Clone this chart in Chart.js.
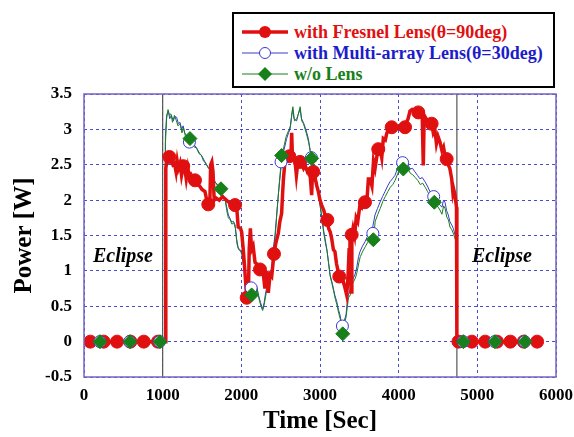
<!DOCTYPE html>
<html lang="en">
  <head>
    <meta charset="UTF-8" />
    <title>Power vs Time</title>
    <script src="https://cdn.jsdelivr.net/npm/chart.js"></script>
    <style>
      body { margin: 0; background: #fff; }
      #wrap { position: relative; width: 574px; height: 437px; }
      #legendBox {
        position: absolute; left: 232px; top: 12px; width: 319px; height: 72px;
        border: 2px solid #000; background: #fff;
        font-family: "Liberation Serif", serif; font-weight: bold; font-size: 18px;
      }
      .row { position: absolute; left: 8px; height: 20px; display: flex; align-items: center; white-space: nowrap; }
      .row svg { margin-right: 6px; }
      .eclipse {
        position: absolute; font-family: "Liberation Serif", serif;
        font-weight: bold; font-style: italic; font-size: 20px; line-height: 20px;
      }
    </style>
  </head>
  <body>
    <div id="wrap">
      <canvas id="chartPower" width="574" height="437"></canvas>

      <!-- legend -->
      <div id="legendBox">
        <div class="row" style="top: 8px; color: #e01010;">
          <svg width="46" height="16"><line x1="0" y1="8" x2="46" y2="8" stroke="#e01010" stroke-width="3.5"/><circle cx="23" cy="8" r="6" fill="#e01010"/></svg>
          with Fresnel Lens(θ=90deg)
        </div>
        <div class="row" style="top: 29px; color: #1c1cc8;">
          <svg width="46" height="16"><line x1="0" y1="8" x2="46" y2="8" stroke="#3a3ad0" stroke-width="1"/><circle cx="23" cy="8" r="5.5" fill="#fff" stroke="#3a3ad0" stroke-width="1"/></svg>
          with Multi-array Lens(θ=30deg)
        </div>
        <div class="row" style="top: 50px; color: #17801a;">
          <svg width="46" height="16"><line x1="0" y1="8" x2="46" y2="8" stroke="#17801a" stroke-width="1"/><polygon points="23,1 30,8 23,15 16,8" fill="#17801a"/></svg>
          w/o Lens
        </div>
      </div>

      <div class="eclipse" style="left: 93px; top: 245px;">Eclipse</div>
      <div class="eclipse" style="left: 472px; top: 245px;">Eclipse</div>
    </div>

    <script>
      // axes
      var xTicks = [0, 1000, 2000, 3000, 4000, 5000, 6000];
      var yTicks = [-0.5, 0, 0.5, 1, 1.5, 2, 2.5, 3, 3.5];

      // eclipse boundaries (sec)
      var eclipseBounds = [1000, 4740];

      // with Fresnel Lens (theta = 90deg)
      var fresnelT = [60, 1030, 1040, 1060, 1085, 1110, 1130, 1150, 1170, 1185, 1200, 1220, 1240, 1262, 1285, 1300, 1320, 1340, 1360, 1390,
        1411, 1440, 1470, 1500, 1538, 1560, 1580, 1600, 1610, 1625, 1640, 1655, 1680, 1720, 1760, 1792, 1830, 1870, 1900, 1920,
        1941, 1960, 1990, 2004, 2025, 2045, 2068, 2090, 2100, 2115, 2130, 2150, 2174, 2195, 2216, 2237, 2260, 2280, 2300, 2320,
        2343, 2365, 2386, 2415, 2440, 2470, 2490, 2512, 2525, 2534, 2555, 2580, 2610, 2630, 2640, 2650, 2680, 2700, 2720, 2746,
        2770, 2790, 2810, 2840, 2870, 2894, 2905, 2915, 2940, 2960, 2979, 3000, 3021, 3050, 3070, 3093, 3110, 3130, 3148, 3170,
        3190, 3210, 3230, 3245, 3270, 3296, 3320, 3339, 3355, 3370, 3381, 3395, 3405, 3420, 3440, 3460, 3480, 3508, 3530, 3550,
        3572, 3600, 3615, 3635, 3660, 3680, 3700, 3720, 3741, 3760, 3785, 3805, 3830, 3850, 3880, 3911, 3940, 3960, 3990, 4020,
        4050, 4081, 4100, 4120, 4144, 4170, 4200, 4230, 4249, 4280, 4300, 4313, 4325, 4350, 4380, 4400, 4419, 4440, 4460, 4480,
        4500, 4525, 4550, 4570, 4590, 4610, 4630, 4650, 4674, 4690, 4700, 4716, 4735, 4740, 5800];
      var fresnelP = [0, 0, 2.45, 2.6, 2.61, 2.55, 2.5, 2.52, 2.4, 2.55, 2.45, 2.52, 2.35, 2.48, 2.42, 2.3, 2.45, 2.32, 2.36, 2.3,
        2.28, 2.22, 2.2, 2.15, 2.12, 2.0, 1.94, 1.98, 2.5, 2.54, 2.4, 2.0, 2.03, 2.0, 2.05, 2.02, 1.98, 1.95, 1.92, 1.93,
        1.9, 1.62, 1.6, 1.55, 1.3, 1.0, 0.62, 0.65, 1.3, 1.6, 1.3, 1.35, 1.12, 1.1, 1.06, 1.02, 0.98, 0.95, 0.75, 1.0,
        0.69, 0.95, 0.92, 1.24, 1.4, 1.53, 1.7, 1.81, 2.1, 2.28, 2.56, 2.6, 2.62, 2.6, 2.95, 2.6, 2.58, 2.35, 2.55, 2.54,
        2.5, 2.45, 2.5, 2.4, 2.42, 2.07, 2.4, 2.4, 2.3, 2.2, 2.12, 2.0, 1.93, 1.85, 1.75, 1.72, 1.6, 1.55, 1.46, 1.3,
        1.27, 1.1, 1.0, 0.92, 0.88, 0.85, 0.75, 0.66, 0.9, 1.3, 1.46, 0.7, 1.5, 1.6, 1.5, 1.75, 1.7, 1.93, 1.9, 2.0,
        1.97, 2.05, 2.3, 2.3, 2.2, 2.55, 2.45, 2.6, 2.72, 2.75, 2.6, 2.87, 2.85, 2.95, 3.0, 3.03, 3.0, 3.05, 3.02, 3.05,
        3.08, 3.03, 3.1, 3.15, 3.26, 3.28, 3.25, 3.22, 3.24, 3.2, 3.15, 2.49, 3.2, 3.15, 3.12, 3.1, 3.08, 2.95, 3.0, 2.8,
        2.9, 2.82, 2.7, 2.75, 2.62, 2.58, 2.5, 2.45, 2.3, 2.1, 2.15, 2.07, 1.9, 0, 0];
      var fresnelMarkT = [80, 250, 420, 590, 760, 940, 1085, 1262, 1411, 1580, 1920, 2068, 2237, 2415, 2610, 2746, 2915, 3093, 3245, 3403,
        3572, 3741, 3911, 4081, 4249, 4419, 4610, 4760, 4930, 5100, 5250, 5420, 5590, 5760];
      var fresnelMarkP = [0, 0, 0, 0, 0, 0, 2.61, 2.48, 2.28, 1.94, 1.93, 0.62, 1.02, 1.24, 2.62, 2.54, 2.4, 1.72, 0.92, 1.51,
        1.97, 2.72, 3.03, 3.03, 3.24, 3.08, 2.58, 0, 0, 0, 0, 0, 0, 0];

      // with Multi-array Lens (theta = 30deg)
      var multiT = [60, 1025, 1035, 1050, 1072, 1090, 1110, 1135, 1155, 1178, 1200, 1220, 1242, 1260, 1280, 1300, 1326, 1350, 1380, 1411,
        1440, 1475, 1500, 1538, 1570, 1602, 1630, 1665, 1700, 1729, 1760, 1792, 1815, 1835, 1877, 1900, 1920, 1940, 1961, 1985,
        2004, 2025, 2047, 2068, 2090, 2110, 2130, 2150, 2170, 2195, 2220, 2245, 2271, 2290, 2310, 2343, 2365, 2386, 2405, 2428,
        2450, 2470, 2490, 2512, 2540, 2576, 2600, 2619, 2635, 2652, 2670, 2703, 2720, 2746, 2765, 2788, 2820, 2852, 2875, 2894,
        2920, 2958, 2980, 3000, 3020, 3042, 3065, 3085, 3105, 3127, 3150, 3169, 3190, 3212, 3235, 3254, 3270, 3289, 3310, 3331,
        3345, 3360, 3381, 3403, 3425, 3445, 3466, 3490, 3508, 3540, 3572, 3600, 3635, 3670, 3699, 3730, 3763, 3795, 3826, 3860,
        3890, 3920, 3953, 3985, 4017, 4050, 4081, 4110, 4144, 4175, 4207, 4240, 4271, 4300, 4335, 4365, 4398, 4430, 4462, 4490,
        4525, 4550, 4570, 4589, 4610, 4631, 4650, 4674, 4695, 4716, 4730, 4738, 5800];
      var multiP = [0, 0, 2.9, 3.2, 3.26, 3.15, 3.2, 3.12, 3.18, 3.17, 3.08, 3.1, 3.0, 3.05, 2.95, 2.92, 2.87, 2.85, 2.8, 2.77,
        2.72, 2.65, 2.62, 2.54, 2.48, 2.44, 2.35, 2.26, 2.2, 2.16, 2.08, 2.02, 1.9, 1.79, 1.69, 1.7, 1.65, 1.45, 1.32, 1.3,
        1.27, 1.1, 0.99, 0.76, 0.74, 0.75, 0.72, 0.8, 0.7, 0.78, 0.65, 0.55, 0.46, 0.55, 0.7, 0.85, 0.95, 1.04, 1.3, 1.51,
        1.8, 2.07, 2.3, 2.54, 2.7, 2.87, 2.95, 3.0, 3.15, 3.29, 3.15, 3.12, 3.2, 3.29, 3.15, 3.1, 3.0, 2.87, 2.7, 2.6,
        2.45, 2.26, 2.1, 1.93, 1.78, 1.6, 1.45, 1.32, 1.15, 0.95, 0.85, 0.76, 0.65, 0.57, 0.45, 0.38, 0.28, 0.2, 0.3, 0.38,
        0.55, 0.66, 0.72, 0.85, 0.9, 0.95, 1.04, 1.2, 1.27, 1.35, 1.41, 1.48, 1.55, 1.62, 1.79, 1.88, 1.97, 2.05, 2.12, 2.2,
        2.26, 2.3, 2.35, 2.45, 2.54, 2.5, 2.47, 2.52, 2.44, 2.45, 2.4, 2.35, 2.3, 2.32, 2.26, 2.2, 2.12, 2.08, 2.02, 1.98,
        1.93, 1.9, 2.0, 1.97, 1.85, 1.79, 1.7, 1.65, 1.6, 1.51, 1.45, 0, 0];
      var multiMarkT = [200, 580, 960, 1340, 2125, 2505, 2890, 3285, 3672, 4050, 4445, 4820, 5220, 5600];
      var multiMarkP = [0, 0, 0, 2.82, 0.76, 2.54, 2.6, 0.22, 1.53, 2.53, 2.05, 0, 0, 0];

      // w/o Lens
      var bareT = [60, 1025, 1035, 1050, 1068, 1085, 1105, 1125, 1150, 1175, 1195, 1220, 1245, 1265, 1290, 1320, 1347, 1375, 1400, 1430,
        1460, 1490, 1520, 1550, 1580, 1610, 1640, 1670, 1700, 1741, 1770, 1795, 1815, 1835, 1860, 1880, 1905, 1925, 1945, 1965,
        1990, 2010, 2030, 2050, 2070, 2095, 2115, 2131, 2150, 2175, 2200, 2225, 2250, 2271, 2290, 2315, 2345, 2370, 2390, 2410,
        2432, 2452, 2472, 2495, 2512, 2540, 2570, 2600, 2625, 2640, 2655, 2675, 2705, 2725, 2748, 2768, 2790, 2825, 2855, 2875,
        2894, 2925, 2960, 2985, 3005, 3025, 3045, 3068, 3090, 3110, 3130, 3152, 3172, 3195, 3215, 3238, 3258, 3275, 3289, 3310,
        3332, 3348, 3362, 3385, 3405, 3428, 3450, 3470, 3495, 3512, 3545, 3575, 3605, 3640, 3678, 3702, 3735, 3765, 3798, 3830,
        3862, 3893, 3925, 3955, 3990, 4020, 4059, 4085, 4115, 4148, 4178, 4210, 4242, 4275, 4305, 4338, 4368, 4400, 4430, 4453,
        4490, 4525, 4550, 4572, 4590, 4612, 4633, 4652, 4676, 4698, 4718, 4732, 4738, 5800];
      var bareP = [0, 0, 2.8, 3.15, 3.28, 3.2, 3.22, 3.1, 3.2, 3.12, 3.05, 3.08, 2.95, 3.02, 2.9, 2.88, 2.85, 2.82, 2.75, 2.74,
        2.66, 2.64, 2.55, 2.52, 2.45, 2.42, 2.3, 2.25, 2.22, 2.14, 2.06, 2.0, 1.85, 1.75, 1.72, 1.66, 1.68, 1.6, 1.38, 1.3,
        1.28, 1.22, 1.05, 0.95, 0.72, 0.7, 0.68, 0.66, 0.72, 0.62, 0.75, 0.6, 0.5, 0.44, 0.52, 0.68, 0.82, 0.92, 1.0, 1.28,
        1.5, 1.82, 2.1, 2.4, 2.63, 2.75, 2.9, 2.98, 3.05, 3.2, 3.32, 3.12, 3.15, 3.22, 3.32, 3.12, 3.08, 2.95, 2.82, 2.7,
        2.59, 2.42, 2.22, 2.05, 1.9, 1.75, 1.55, 1.4, 1.28, 1.1, 0.92, 0.82, 0.72, 0.6, 0.52, 0.4, 0.32, 0.2, 0.11, 0.25,
        0.35, 0.5, 0.62, 0.66, 0.8, 0.85, 0.9, 0.98, 1.12, 1.2, 1.28, 1.34, 1.4, 1.45, 1.44, 1.7, 1.8, 1.88, 1.98, 2.05,
        2.12, 2.18, 2.22, 2.28, 2.38, 2.45, 2.44, 2.4, 2.45, 2.38, 2.36, 2.32, 2.28, 2.22, 2.24, 2.18, 2.12, 2.05, 2.0, 1.97,
        1.92, 1.86, 1.8, 1.92, 1.88, 1.76, 1.72, 1.62, 1.58, 1.52, 1.45, 1.4, 0, 0];
      var bareMarkT = [203, 585, 966, 1347, 1741, 2131, 2512, 2894, 3289, 3678, 4059, 4453, 4822, 5224, 5606];
      var bareMarkP = [0, 0, 0, 2.87, 2.16, 0.66, 2.63, 2.59, 0.11, 1.44, 2.44, 1.97, 0, 0, 0];

      function pts(xs, ys) {
        return xs.map(function (x, i) { return { x: x, y: ys[i] }; });
      }

      var RED = '#e01010', BLUE = '#3a3ad0', GREEN = '#17801a';
      var tickFont = { family: 'Liberation Serif', weight: 'bold', size: 17 };
      var titleFont = { family: 'Liberation Serif', weight: 'bold', size: 25 };

      var datasets = [];
      eclipseBounds.forEach(function (b) {
        datasets.push({
          data: pts([b, b], [-0.5, 3.5]),
          borderColor: '#555', borderWidth: 1.2, pointRadius: 0, showLine: true, order: 20
        });
      });
      datasets.push(
        { label: 'multi', data: pts(multiT, multiP), borderColor: BLUE, borderWidth: 1, pointRadius: 0, showLine: true, order: 12 },
        { label: 'bare', data: pts(bareT, bareP), borderColor: GREEN, borderWidth: 1, pointRadius: 0, showLine: true, order: 11 },
        { label: 'fresnel', data: pts(fresnelT, fresnelP), borderColor: RED, borderWidth: 3.5, pointRadius: 0, showLine: true, order: 10 },
        { label: 'fresnel marks', data: pts(fresnelMarkT, fresnelMarkP), showLine: false, pointRadius: 6.5,
          pointBackgroundColor: RED, pointBorderColor: RED, order: 3 },
        { label: 'multi marks', data: pts(multiMarkT, multiMarkP), showLine: false, pointRadius: 6,
          pointBackgroundColor: '#fff', pointBorderColor: BLUE, pointBorderWidth: 1, order: 2 },
        { label: 'bare marks', data: pts(bareMarkT, bareMarkP), showLine: false, pointRadius: 7, pointStyle: 'rectRot',
          pointBackgroundColor: GREEN, pointBorderColor: GREEN, order: 1 }
      );

      // purple frame round the plot area
      var frame = {
        id: 'frame',
        afterDatasetsDraw: function (chart) {
          var a = chart.chartArea, c = chart.ctx;
          c.save();
          c.strokeStyle = '#7366c6';
          c.lineWidth = 1.5;
          c.strokeRect(a.left, a.top, a.right - a.left, a.bottom - a.top);
          c.restore();
        }
      };

      function plain(v) { return String(v); }

      var ctx = document.getElementById('chartPower').getContext('2d');
      new Chart(ctx, {
        type: 'scatter',
        data: { datasets: datasets },
        plugins: [frame],
        options: {
          responsive: false,
          animation: false,
          layout: { padding: { left: 0, right: 18, top: 94, bottom: 0 } },
          plugins: { legend: { display: false }, tooltip: { enabled: false } },
          elements: { line: { tension: 0 } },
          scales: {
            x: {
              type: 'linear', min: 0, max: 6000,
              afterBuildTicks: function (s) { s.ticks = xTicks.map(function (v) { return { value: v }; }); },
              afterFit: function (s) { s.height = 60; s.paddingLeft = 0; s.paddingRight = 0; },
              ticks: { font: tickFont, color: '#000', padding: 8, callback: plain },
              grid: { color: '#4a4ad0', drawTicks: false },
              border: { display: false, dash: [3, 3] },
              title: { display: true, text: 'Time [Sec]', font: titleFont, color: '#000', padding: { top: 0, bottom: 0 } }
            },
            y: {
              type: 'linear', min: -0.5, max: 3.5,
              afterBuildTicks: function (s) { s.ticks = yTicks.map(function (v) { return { value: v }; }); },
              afterFit: function (s) { s.width = 84; s.paddingTop = 0; s.paddingBottom = 0; },
              ticks: { font: tickFont, color: '#000', padding: 12, callback: plain },
              grid: { color: '#4a4ad0', drawTicks: false },
              border: { display: false, dash: [3, 3] },
              title: { display: true, text: 'Power [W]', font: titleFont, color: '#000', padding: { top: 10, bottom: 0 } }
            }
          }
        }
      });
    </script>
  </body>
</html>
